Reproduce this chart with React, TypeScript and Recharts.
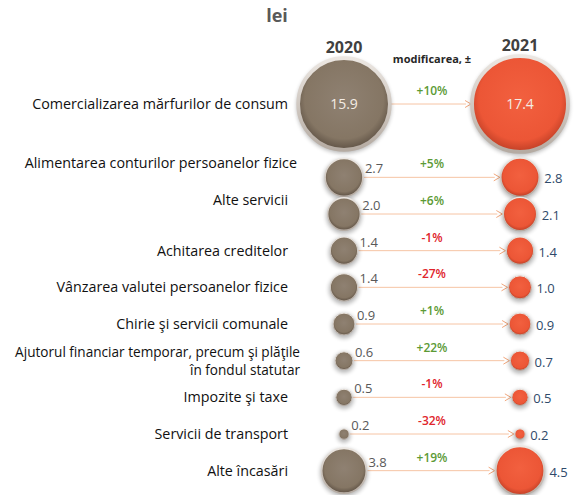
import { ScatterChart, Scatter, XAxis, YAxis, ZAxis, ReferenceLine } from 'recharts';

const categories = [
  'Comercializarea mărfurilor de consum',
  'Alimentarea conturilor persoanelor fizice',
  'Alte servicii',
  'Achitarea creditelor',
  'Vânzarea valutei persoanelor fizice',
  'Chirie şi servicii comunale',
  'Ajutorul financiar temporar, precum şi plăţile\nîn fondul statutar',
  'Impozite şi taxe',
  'Servicii de transport',
  'Alte încasări',
];
const values2020 = [15.9, 2.7, 2.0, 1.4, 1.4, 0.9, 0.6, 0.5, 0.2, 3.8];
const values2021 = [17.4, 2.8, 2.1, 1.4, 1.0, 0.9, 0.7, 0.5, 0.2, 4.5];
const changes = ['+10%', '+5%', '+6%', '-1%', '-27%', '+1%', '+22%', '-1%', '-32%', '+19%'];
const years = ['2020', '2021'];

const FONT = '"Open Sans", sans-serif';
const AREA_PER_UNIT = 415;
const rowPos = (i: number) => (i === 0 ? 0 : i + 1);
const radiusOf = (v: number) => Math.sqrt((AREA_PER_UNIT * v) / Math.PI);

const data2020 = values2020.map((v, i) => ({ x: 0, y: rowPos(i), z: v, i }));
const data2021 = values2021.map((v, i) => ({ x: 1, y: rowPos(i), z: v, i }));

function Bubble(props: any, year: number) {
  const { cx, cy, payload } = props;
  const r = radiusOf(payload.z);
  const big = payload.z > 10;
  const grad = year === 0 ? 'url(#g2020)' : 'url(#g2021)';
  const label = payload.z.toFixed(1);
  return (
    <g>
      <circle cx={cx} cy={cy + 2} r={r + 1.5} fill="#000" opacity={0.28} filter="url(#blur)" />
      <circle cx={cx} cy={cy} r={r} fill={grad} stroke="url(#rim)" strokeWidth={Math.max(1, r * 0.08)} />
      {big ? (
        <text x={cx} y={cy + 5} textAnchor="middle" fill="#f4ece4" fontSize={14} fontFamily={FONT}>
          {label}
        </text>
      ) : year === 0 ? (
        <text x={cx + r + 2} y={cy - 4} fill="#595959" fontSize={13} fontFamily={FONT}>
          {label}
        </text>
      ) : (
        <text x={cx + r + 5} y={cy + 6} fill="#2f4a6a" fontSize={13} fontFamily={FONT}>
          {label}
        </text>
      )}
    </g>
  );
}

function Arrow(props: any, i: number) {
  const { x1, y1, x2 } = props;
  const sx = x1 + radiusOf(values2020[i]) + 1;
  const ex = x2 - radiusOf(values2021[i]) - 1;
  const up = changes[i].startsWith('+');
  return (
    <g>
      <line x1={sx} y1={y1} x2={ex - 5} y2={y1} stroke="#f6c4a4" strokeWidth={1} />
      <path d={`M${ex - 6},${y1 - 3.5} L${ex},${y1} L${ex - 6},${y1 + 3.5}`} fill="none" stroke="#f2a77c" strokeWidth={1} />
      <text
        x={(x1 + x2) / 2}
        y={y1 - 9}
        textAnchor="middle"
        fill={up ? '#5c9a35' : '#e0242c'}
        fontSize={12}
        fontWeight={600}
        fontFamily={FONT}
      >
        {changes[i]}
      </text>
    </g>
  );
}

function CategoryTick(props: any) {
  const { y, payload } = props;
  const idx = payload.value === 0 ? 0 : payload.value - 1;
  const lines = categories[idx].split('\n');
  const shift = idx === 1 || idx === 2 ? -14 : 0;
  const x = idx === 1 ? 297 : idx === 6 ? 300 : 288;
  const multi = lines.length > 1;
  const lh = 18;
  const start = y + shift + 5 - ((lines.length - 1) * lh) / 2;
  return (
    <text x={x} y={start} textAnchor="end" fill="#111" fontSize={multi ? 13.6 : 14.3} fontFamily={FONT}>
      {lines.map((l, k) => (
        <tspan key={k} x={x} dy={k === 0 ? 0 : lh}>
          {l}
        </tspan>
      ))}
    </text>
  );
}

function YearTick(props: any) {
  const { x, payload } = props;
  return (
    <text x={x} y={payload.value === 0 ? 53 : 51} textAnchor="middle" fill="#404040" fontSize={16} fontWeight={700} fontFamily={FONT}>
      {years[payload.value]}
    </text>
  );
}

export default function App() {
  return (
    <div style={{ position: 'absolute', left: 0, top: 0, width: 574, height: 495, background: '#fff' }}>
      <div style={{ position: 'absolute', left: 0, top: 3, width: 554, textAlign: 'center', fontFamily: FONT, fontWeight: 700, fontSize: 18, color: '#595959' }}>
        lei
      </div>
      <div style={{ position: 'absolute', left: 382, top: 51, width: 100, textAlign: 'center', fontFamily: FONT, fontWeight: 700, fontSize: 11, color: '#262626' }}>
        modificarea, ±
      </div>
      <ScatterChart width={574} height={495} margin={{ top: 0, right: 10, bottom: 6, left: 0 }}>
        <defs>
          <radialGradient id="g2020" cx="50%" cy="45%" r="55%">
            <stop offset="0%" stopColor="#8f8172" />
            <stop offset="78%" stopColor="#857664" />
            <stop offset="100%" stopColor="#5f5245" />
          </radialGradient>
          <radialGradient id="g2021" cx="50%" cy="45%" r="55%">
            <stop offset="0%" stopColor="#f2603f" />
            <stop offset="78%" stopColor="#ec5636" />
            <stop offset="100%" stopColor="#bf3f26" />
          </radialGradient>
          <linearGradient id="rim" x1="0" y1="0" x2="0" y2="1">
            <stop offset="0%" stopColor="#ece7e2" />
            <stop offset="100%" stopColor="#b5aba2" />
          </linearGradient>
          <filter id="blur" x="-50%" y="-50%" width="200%" height="200%">
            <feGaussianBlur stdDeviation="2" />
          </filter>
        </defs>
        <XAxis
          type="number"
          dataKey="x"
          orientation="top"
          domain={[-0.25, 1.25]}
          ticks={[0, 1]}
          height={49}
          axisLine={false}
          tickLine={false}
          tick={YearTick}
        />
        <YAxis
          type="number"
          dataKey="y"
          reversed
          domain={[-1.5, 10.5]}
          ticks={[0, 2, 3, 4, 5, 6, 7, 8, 9, 10]}
          width={300}
          axisLine={false}
          tickLine={false}
          tick={CategoryTick}
        />
        <ZAxis type="number" dataKey="z" domain={[0, 20]} range={[0, AREA_PER_UNIT * 20]} />
        {values2020.map((_, i) => (
          <ReferenceLine
            key={i}
            segment={[
              { x: 0, y: rowPos(i) },
              { x: 1, y: rowPos(i) },
            ]}
            shape={(p: any) => Arrow(p, i)}
          />
        ))}
        <Scatter data={data2020} isAnimationActive={false} shape={(p: any) => Bubble(p, 0)} />
        <Scatter data={data2021} isAnimationActive={false} shape={(p: any) => Bubble(p, 1)} />
      </ScatterChart>
    </div>
  );
}
